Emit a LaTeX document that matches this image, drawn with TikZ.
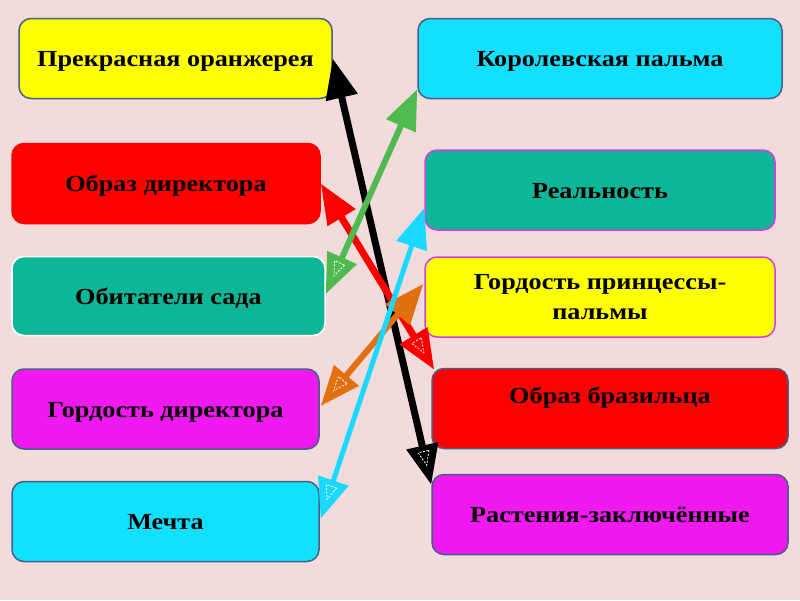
\documentclass[tikz,border=0pt]{standalone}
\usepackage{fontspec}
\setmainfont{Liberation Serif}[FakeStretch=1.14]
\usetikzlibrary{arrows.meta,decorations.markings,calc}
\definecolor{bg}{RGB}{242,219,219}
\definecolor{boxyellow}{RGB}{255,255,0}
\definecolor{boxred}{RGB}{255,0,0}
\definecolor{boxteal}{RGB}{12,182,150}
\definecolor{boxmagenta}{RGB}{240,25,240}
\definecolor{boxcyan}{RGB}{18,224,255}
\definecolor{slate}{RGB}{70,95,130}
\definecolor{pinkborder}{RGB}{215,60,225}
\definecolor{arrgreen}{RGB}{80,185,80}
\definecolor{arrorange}{RGB}{226,112,16}
\definecolor{arrcyan}{RGB}{26,216,255}
\tikzset{
  box/.style={rectangle, rounded corners=12pt, line width=1.5pt, align=center,
    font=\fontsize{23}{30}\selectfont\bfseries, text=black},
  onel/.style={box, text height=20.4pt, text depth=4pt},
  dbl/.style={line width=#1,
    {Triangle[length=40pt,width=31pt]}-{Triangle[length=40pt,width=31pt]},
    postaction={decorate},
    decoration={markings,
      mark=at position 1 with {\draw[white,line width=0.8pt,dash pattern=on 2pt off 1.5pt] (-34pt,5.5pt) -- (-20pt,0pt) -- (-34pt,-5.5pt) -- cycle;},
      mark=at position 0 with {\draw[white,line width=0.8pt,dash pattern=on 2pt off 1.5pt] (34pt,5.5pt) -- (20pt,0pt) -- (34pt,-5.5pt) -- cycle;}}},
}
\begin{document}
\begin{tikzpicture}[x=1pt,y=-1pt]
\fill[bg] (0,0) rectangle (800,600);
\useasboundingbox (0,0) rectangle (800,600);
% left column
\node[onel, minimum width=313pt, minimum height=80pt, fill=boxyellow, draw=slate] (L1) at (175.5,58.5) {Прекрасная оранжерея};
\node[onel, minimum width=308pt, minimum height=80pt, fill=boxred, draw=boxred] (L2) at (166,183.5) {Образ директора};
\node[onel, minimum width=313pt, minimum height=79pt, fill=boxteal, draw=white] (L3) at (168.5,296) {Обитатели сада};
\node[onel, minimum width=307pt, minimum height=80pt, fill=boxmagenta, draw=slate] (L4) at (165.5,409) {Гордость директора};
\node[onel, minimum width=307pt, minimum height=80pt, fill=boxcyan, draw=slate] (L5) at (165.5,521.5) {Мечта};
% right column
\node[onel, minimum width=364pt, minimum height=80pt, fill=boxcyan, draw=slate] (R1) at (600,58.5) {Королевская пальма};
\node[onel, minimum width=350pt, minimum height=80pt, fill=boxteal, draw=pinkborder] (R2) at (600,190) {Реальность};
\node[box, minimum width=350pt, minimum height=80pt, fill=boxyellow, draw=pinkborder] (R3) at (600,297) {Гордость принцессы-\\пальмы};
\node[box, minimum width=356pt, minimum height=80pt, fill=boxred, draw=slate, text height=16pt, text depth=26pt] (R4) at (610,408.5) {Образ бразильца};
\node[onel, minimum width=356pt, minimum height=80pt, fill=boxmagenta, draw=slate] (R5) at (610,514.5) {Растения-заключённые};
% connector ends
\coordinate (bkA) at (L1.east);
\coordinate (bkB) at ($(R5.north west)+(0,11)$);
\coordinate (rdA) at (L2.east);
\coordinate (rdB) at ($(R4.north west)+(3,2)$);
\coordinate (grA) at ($(R1.south west)+(0,-10)$);
\coordinate (grB) at ($(L3.east)+(0,-2)$);
\coordinate (orA) at ($(R3.west)+(-1,-13)$);
\coordinate (orB) at ($(L4.east)+(1,-3)$);
\coordinate (cyA) at ($(R2.west)+(0,18)$);
\coordinate (cyB) at ($(L5.east)+(1,-3)$);
% connectors
\draw[dbl=7pt, black] (bkA) -- (bkB);
\draw[dbl=7pt, boxred] (rdA) -- (rdB);
\draw[dbl=6pt, arrgreen] (grA) -- (grB);
\draw[dbl=6pt, arrorange] (orA) -- (orB);
\draw[dbl=5pt, arrcyan] (cyA) -- (cyB);
\end{tikzpicture}
\end{document}
